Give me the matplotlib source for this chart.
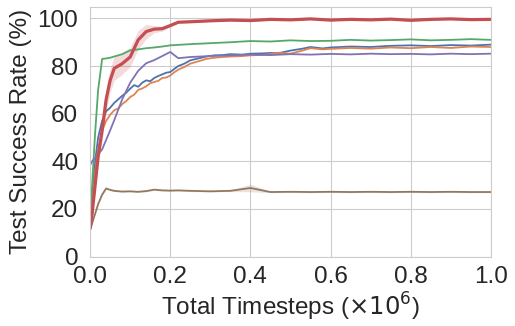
import numpy as np
import matplotlib
matplotlib.use("Agg")
import matplotlib.pyplot as plt
import seaborn as sns

sns.set_style("whitegrid")
plt.rcParams['font.family'] = ['Liberation Sans', 'DejaVu Sans']

# timesteps in millions
t = [0, 0.005, 0.0125, 0.02, 0.03, 0.04, 0.05, 0.06, 0.08, 0.10, 0.12, 0.14,
     0.16, 0.18, 0.20, 0.22, 0.25, 0.30, 0.35, 0.40, 0.45, 0.50, 0.55, 0.60,
     0.65, 0.70, 0.75, 0.80, 0.85, 0.90, 0.95, 1.0]

# blue / orange are noisier, so they get a denser grid
t_dense = [0, 0.005, 0.0125, 0.02, 0.03, 0.04, 0.05, 0.06, 0.07, 0.08, 0.09, 0.10,
           0.11, 0.12, 0.13, 0.14, 0.15, 0.16, 0.17, 0.18, 0.19, 0.20, 0.21, 0.22,
           0.235, 0.25, 0.27, 0.29, 0.31, 0.33, 0.35, 0.38, 0.40, 0.43, 0.45, 0.47,
           0.50, 0.53, 0.55, 0.58, 0.60, 0.65, 0.70, 0.75, 0.80, 0.85, 0.90, 0.95, 1.0]

blue = [13, 25, 40, 50, 57, 61, 62.5, 64.5, 66, 67.5, 68.8, 70.5, 72, 71.3, 73, 74,
        73.6, 75, 75.8, 76.5, 77.2, 77.5, 78.8, 80, 81, 82.4, 83.2, 84, 84.5, 84.6,
        85, 84.8, 85.2, 85.3, 85.5, 85.4, 86.5, 87.3, 88, 87.4, 87.8, 88.2, 88,
        88.5, 88.7, 88.4, 88.8, 88.6, 89]
orange = [12, 22, 35, 45, 53, 57, 59.5, 61.4, 62.2, 64, 65.3, 67, 68, 70, 70.6, 71.5,
          72.8, 73.3, 73.8, 75, 75.2, 76, 77.4, 78.5, 79.6, 81, 82, 83, 83.5, 83.8,
          84, 84.2, 84.5, 84.7, 85, 85.6, 85.2, 86.5, 87.5, 87, 87.2, 87.6, 87.3,
          87.8, 87.5, 88, 87.6, 88.2, 88]
green = [18, 30, 52, 70, 83, 83.2, 83.5, 84, 85, 86.6, 87, 87.5, 87.8, 88.2, 88.7, 88.9,
         89.2, 89.6, 90, 90.5, 90.3, 90.8, 90.5, 90.6, 91, 90.7, 90.9, 91.2, 90.8, 91, 91.3, 91]
red = [12, 18, 30, 42, 53, 66, 74, 79, 81, 83.8, 91, 94.5, 95.5, 95.7, 97, 98.4,
       98.6, 99, 99.3, 99.1, 99.6, 99.4, 99.8, 99.3, 99.6, 99.4, 99.7, 99.2, 99.6, 99.8, 99.5, 99.6]
red_sd = [0, 1, 2, 3, 4, 5, 5, 5, 4.5, 4, 4, 3, 1.5, 1, 0.6, 0.4,
          0.3, 0.3, 0.3, 0.3, 0.3, 0.3, 0.3, 0.3, 0.3, 0.3, 0.3, 0.3, 0.3, 0.3, 0.3, 0.3]
purple = [38.4, 40, 41.5, 43, 45, 49, 53, 57.2, 66, 73, 78, 81.2, 82.5, 84.2, 85.9, 83.3,
          83.8, 84.2, 84.5, 84.8, 84.6, 85, 84.8, 85.1, 84.9, 85.2, 85, 85.1, 84.9, 85.2, 85, 85.2]
brown = [11, 14, 18, 22, 26, 28.6, 28, 27.6, 27.3, 27.4, 27.2, 27.5, 28.1, 27.8, 27.7, 27.8,
         27.6, 27.4, 27.6, 28.8, 27.1, 27.2, 27.1, 27.2, 27.1, 27.2, 27.1, 27.2, 27.1, 27.2, 27.1, 27.1]
brown_sd = [0.3, 0.3, 0.3, 0.3, 0.3, 0.3, 0.3, 0.3, 0.3, 0.3, 0.3, 0.3, 0.3, 0.3, 0.3, 0.3,
            0.3, 0.3, 0.3, 1.6, 0.3, 0.3, 0.3, 0.3, 0.3, 0.3, 0.3, 0.3, 0.3, 0.3, 0.3, 0.3]

pal = sns.color_palette("deep")

fig = plt.figure(figsize=(5.15, 3.26), dpi=100)
ax = fig.add_axes([0.175, 0.213, 0.778, 0.767])

ax.plot(t_dense, blue, color=pal[0], lw=1.3)
ax.plot(t_dense, orange, color=pal[1], lw=1.3)
ax.plot(t, green, color=pal[2], lw=1.3)
ax.plot(t, purple, color=pal[4], lw=1.3)
ax.plot(t, brown, color=pal[5], lw=1.3)
b = np.array(brown); bs = np.array(brown_sd)
ax.fill_between(t, b - bs, b + bs, color=pal[5], alpha=0.2, lw=0)
r = np.array(red); rs = np.array(red_sd)
ax.fill_between(t, r - rs, r + rs, color=pal[3], alpha=0.2, lw=0)
ax.plot(t, red, color=pal[3], lw=2.3)

ax.set_xlim(0, 1.0)
ax.set_ylim(0, 105)
ax.set_yticks([0, 20, 40, 60, 80, 100])
ax.set_xticks([0, 0.2, 0.4, 0.6, 0.8, 1.0])
ax.tick_params(labelsize=17.5)
ax.tick_params(axis='y', pad=5)
ax.tick_params(axis='x', pad=3)
ax.set_xlabel(r"Total Timesteps ($\times 10^6$)", fontsize=17.5, labelpad=2)
ax.set_ylabel("Test Success Rate (%)", fontsize=17.5, labelpad=4)

plt.savefig("out.png", dpi=100)
